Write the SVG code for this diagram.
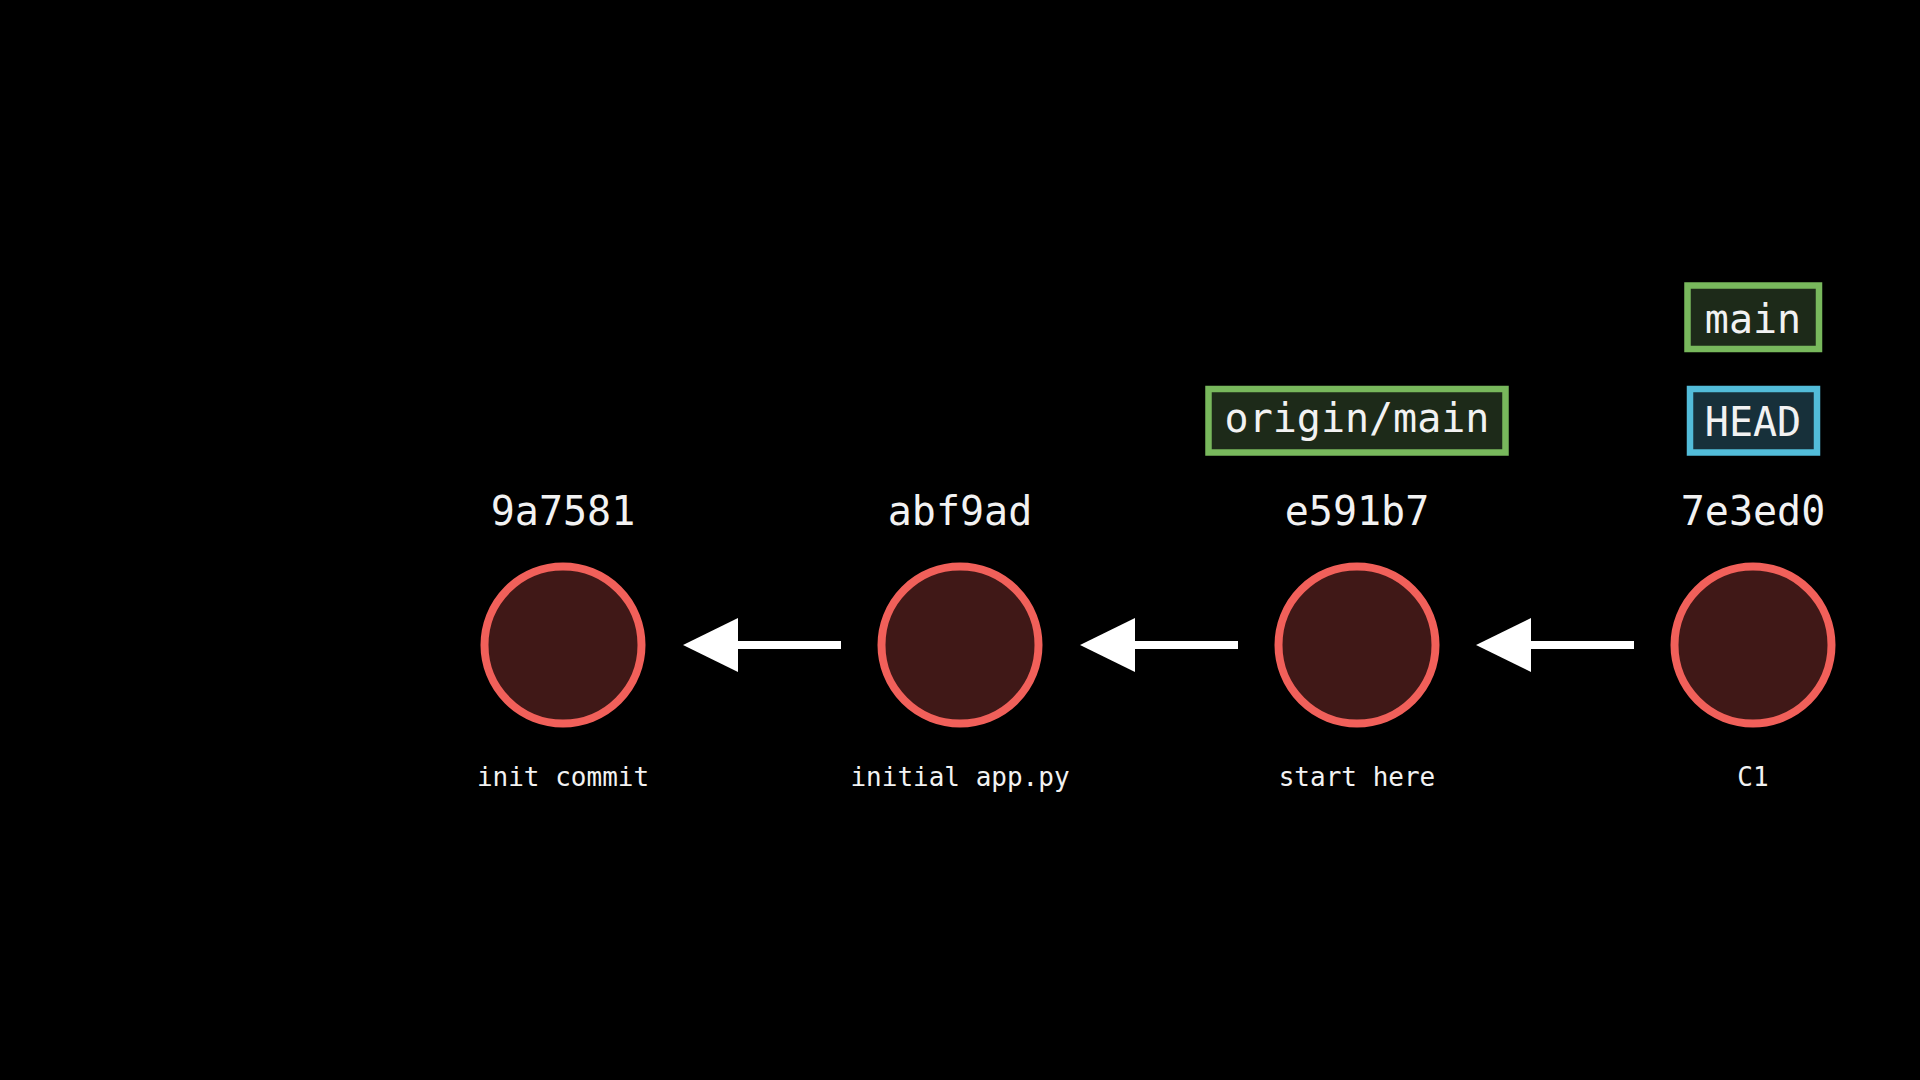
<svg xmlns="http://www.w3.org/2000/svg" width="1920" height="1080" viewBox="0 0 1920 1080">
<style>
.commit{fill:#401817;stroke:#f1605a;stroke-width:8}
.hash{font-family:"DejaVu Sans Mono",monospace;font-size:40px;fill:#f2f2f2;text-anchor:middle}
.msg{font-family:"DejaVu Sans Mono",monospace;font-size:26px;fill:#f2f2f2;text-anchor:middle}
.ref{font-family:"DejaVu Sans Mono",monospace;font-size:40px;fill:#f2f2f2;text-anchor:middle}
.branch{fill:#1d2a19;stroke:#78b85c;stroke-width:6.5}
.head{fill:#17303a;stroke:#52bcd9;stroke-width:6.5}
.edge{stroke:#ffffff;stroke-width:8;fill:none}
.tip{fill:#ffffff}
</style>
<rect width="1920" height="1080" fill="#000000"/>
<g id="connectors">
<line class="edge" x1="841" y1="645" x2="735" y2="645"/>
<polygon class="tip" points="683,645 738,618 738,672"/>
<line class="edge" x1="1238" y1="645" x2="1132" y2="645"/>
<polygon class="tip" points="1080,645 1135,618 1135,672"/>
<line class="edge" x1="1634" y1="645" x2="1528" y2="645"/>
<polygon class="tip" points="1476,645 1531,618 1531,672"/>
</g>
<g id="commit-9a7581">
<circle class="commit" cx="563" cy="645" r="78.5"/>
<text class="hash" x="563" y="525">9a7581</text>
<text class="msg" x="563" y="786">init commit</text>
</g>
<g id="commit-abf9ad">
<circle class="commit" cx="960" cy="645" r="78.5"/>
<text class="hash" x="960" y="525">abf9ad</text>
<text class="msg" x="960" y="786">initial app.py</text>
</g>
<g id="commit-e591b7">
<circle class="commit" cx="1357" cy="645" r="78.5"/>
<text class="hash" x="1357" y="525">e591b7</text>
<text class="msg" x="1357" y="786">start here</text>
</g>
<g id="commit-7e3ed0">
<circle class="commit" cx="1753" cy="645" r="78.5"/>
<text class="hash" x="1753" y="525">7e3ed0</text>
<text class="msg" x="1753" y="786">C1</text>
</g>
<g id="ref-origin-main">
<rect class="branch" x="1208.5" y="389" width="297" height="63.5"/>
<text class="ref" x="1357" y="432">origin/main</text>
</g>
<g id="ref-main">
<rect class="branch" x="1687.5" y="285.5" width="131.5" height="63.5"/>
<text class="ref" x="1753" y="333">main</text>
</g>
<g id="ref-HEAD">
<rect class="head" x="1690" y="389" width="127" height="63.5"/>
<text class="ref" x="1753" y="435.5">HEAD</text>
</g>
</svg>
